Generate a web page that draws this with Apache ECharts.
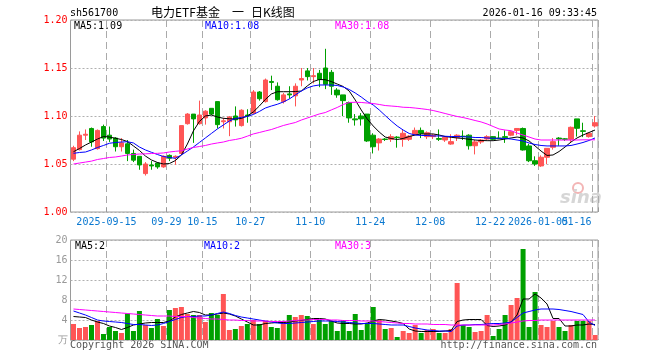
<!DOCTYPE html>
<html><head><meta charset="utf-8">
<script src="https://cdn.jsdelivr.net/npm/echarts@6/dist/echarts.min.js"></script>
<style>html,body{margin:0;padding:0;background:#fff}#c{width:660px;height:360px}</style>
</head><body><div id="c"></div>
<script>
const dates = ['2025-09-05','2025-09-08','2025-09-09','2025-09-10','2025-09-11','2025-09-12','2025-09-15','2025-09-16','2025-09-17','2025-09-18','2025-09-19','2025-09-22','2025-09-23','2025-09-24','2025-09-25','2025-09-26','2025-09-29','2025-09-30','2025-10-09','2025-10-10','2025-10-13','2025-10-14','2025-10-15','2025-10-16','2025-10-17','2025-10-20','2025-10-21','2025-10-22','2025-10-23','2025-10-24','2025-10-27','2025-10-28','2025-10-29','2025-10-30','2025-10-31','2025-11-03','2025-11-04','2025-11-05','2025-11-06','2025-11-07','2025-11-10','2025-11-11','2025-11-12','2025-11-13','2025-11-14','2025-11-17','2025-11-18','2025-11-19','2025-11-20','2025-11-21','2025-11-24','2025-11-25','2025-11-26','2025-11-27','2025-11-28','2025-12-01','2025-12-02','2025-12-03','2025-12-04','2025-12-05','2025-12-08','2025-12-09','2025-12-10','2025-12-11','2025-12-12','2025-12-15','2025-12-16','2025-12-17','2025-12-18','2025-12-19','2025-12-22','2025-12-23','2025-12-24','2025-12-25','2025-12-26','2025-12-29','2025-12-30','2025-12-31','2026-01-05','2026-01-06','2026-01-07','2026-01-08','2026-01-09','2026-01-12','2026-01-13','2026-01-14','2026-01-15','2026-01-16'];
const opens = [1.055,1.065,1.080,1.087,1.066,1.089,1.080,1.077,1.068,1.071,
1.061,1.058,1.040,1.049,1.051,1.047,1.059,1.057,1.061,1.092,
1.102,1.092,1.098,1.108,1.115,1.094,1.094,1.100,1.090,1.101,
1.103,1.125,1.115,1.136,1.131,1.115,1.123,1.121,1.1375,1.147,
1.141,1.1445,1.150,1.1455,1.127,1.122,1.114,1.097,1.100,1.102,
1.080,1.072,1.076,1.0757,1.078,1.0755,1.0757,1.081,1.085,1.0785,
1.0785,1.0765,1.075,1.0708,1.0775,1.079,1.080,1.069,1.073,1.076,
1.0785,1.077,1.0785,1.080,1.085,1.087,1.0688,1.0534,1.048,1.057,
1.0674,1.077,1.0762,1.0757,1.097,1.0846,1.0785,1.0896];
const closes = [1.067,1.080,1.081,1.073,1.085,1.077,1.076,1.068,1.072,1.061,
1.054,1.049,1.050,1.048,1.047,1.058,1.056,1.058,1.090,1.102,
1.097,1.101,1.105,1.102,1.091,1.095,1.099,1.096,1.106,1.100,
1.125,1.118,1.1375,1.135,1.117,1.122,1.122,1.131,1.139,1.141,
1.142,1.138,1.133,1.131,1.122,1.116,1.098,1.096,1.097,1.074,
1.068,1.076,1.0755,1.0785,1.0775,1.082,1.079,1.085,1.082,1.0826,
1.080,1.0757,1.0778,1.0733,1.080,1.0785,1.069,1.073,1.075,1.0785,
1.0757,1.0765,1.0775,1.0836,1.087,1.0646,1.0534,1.050,1.057,1.0663,
1.0733,1.076,1.0757,1.0882,1.0872,1.084,1.082,1.093];
const lows = [1.053,1.064,1.075,1.068,1.065,1.074,1.073,1.063,1.063,1.053,
1.052,1.044,1.038,1.044,1.045,1.046,1.053,1.049,1.060,1.091,
1.072,1.091,1.091,1.101,1.087,1.087,1.079,1.089,1.089,1.093,
1.102,1.116,1.114,1.127,1.116,1.113,1.118,1.110,1.131,1.137,
1.134,1.130,1.128,1.122,1.119,1.100,1.093,1.090,1.090,1.073,
1.061,1.064,1.074,1.073,1.067,1.068,1.074,1.080,1.077,1.076,
1.076,1.074,1.073,1.070,1.074,1.075,1.065,1.060,1.071,1.075,
1.075,1.076,1.072,1.079,1.080,1.064,1.052,1.048,1.047,1.050,
1.065,1.069,1.074,1.073,1.0785,1.078,1.0775,1.088];
const highs = [1.069,1.084,1.086,1.088,1.086,1.091,1.089,1.078,1.077,1.075,
1.065,1.058,1.052,1.053,1.052,1.059,1.060,1.059,1.090,1.103,
1.102,1.116,1.106,1.108,1.115,1.098,1.100,1.110,1.107,1.107,
1.127,1.126,1.139,1.142,1.135,1.124,1.131,1.134,1.150,1.150,
1.150,1.148,1.170,1.148,1.129,1.122,1.115,1.102,1.103,1.102,
1.082,1.077,1.077,1.081,1.079,1.086,1.080,1.088,1.088,1.084,
1.081,1.086,1.078,1.081,1.081,1.085,1.081,1.075,1.076,1.080,
1.079,1.084,1.085,1.084,1.0875,1.088,1.071,1.058,1.059,1.0663,
1.077,1.078,1.077,1.089,1.097,1.093,1.082,1.100];
const volumes = [3.2,2.4,2.6,3.0,3.8,1.2,2.6,1.8,1.4,5.3,
1.8,5.8,3.0,2.4,4.2,2.8,6.0,6.4,6.6,5.2,
5.0,5.0,3.6,5.4,5.0,9.2,2.0,2.2,2.8,3.2,
4.0,3.2,3.8,2.6,2.4,3.8,5.0,4.6,5.0,4.8,
3.2,4.0,3.2,3.8,1.8,4.0,1.8,5.2,2.0,3.3,
6.6,4.0,2.2,2.4,0.6,1.8,1.4,3.0,1.4,2.0,
2.2,1.4,1.4,2.2,11.4,3.0,2.6,1.6,1.8,5.0,
0.8,2.2,5.0,7.0,8.4,18.2,2.6,9.6,3.0,2.6,
3.8,2.6,1.8,3.0,3.8,3.8,3.8,1.0];
const ma5 = [1.0628,1.0661,1.0698,1.0729,1.0760,1.0786,1.0781,1.0768,1.0755,1.0734,
1.0688,1.0641,1.0583,1.0542,1.0516,1.0500,1.0505,1.0536,1.0594,1.0708,
1.0844,1.0943,1.1000,1.1010,1.0990,1.0976,1.0971,1.0969,1.0974,1.1000,
1.1042,1.1104,1.1172,1.1229,1.1253,1.1253,1.1253,1.1255,1.1260,1.1313,
1.1359,1.1380,1.1378,1.1359,1.1333,1.1307,1.1260,1.1167,1.1063,1.0969,
1.0896,1.0833,1.0781,1.0766,1.0755,1.0766,1.0786,1.0802,1.0813,1.0813,
1.0813,1.0802,1.0786,1.0778,1.0771,1.0766,1.0757,1.0750,1.0745,1.0743,
1.0743,1.0750,1.0760,1.0771,1.0781,1.0771,1.0740,1.0688,1.0635,1.0589,
1.0594,1.0630,1.0677,1.0729,1.0771,1.0802,1.0828,1.0854];
const ma10 = [1.0611,1.0620,1.0625,1.0646,1.0672,1.0693,1.0716,1.0724,1.0729,1.0732,
1.0719,1.0677,1.0646,1.0622,1.0599,1.0578,1.0568,1.0559,1.0594,1.0635,
1.0677,1.0724,1.0771,1.0818,1.0865,1.0906,1.0948,1.0974,1.0986,1.0995,
1.1016,1.1047,1.1083,1.1104,1.1122,1.1146,1.1177,1.1219,1.1260,1.1292,
1.1313,1.1323,1.1323,1.1323,1.1318,1.1302,1.1276,1.1240,1.1198,1.1151,
1.1115,1.1063,1.1005,1.0948,1.0896,1.0854,1.0818,1.0802,1.0797,1.0797,
1.0792,1.0792,1.0789,1.0786,1.0786,1.0784,1.0781,1.0776,1.0776,1.0771,
1.0768,1.0768,1.0766,1.0760,1.0750,1.0740,1.0719,1.0703,1.0693,1.0688,
1.0688,1.0688,1.0688,1.0693,1.0708,1.0724,1.0745,1.0771];
const ma30 = [1.0500,1.0510,1.0520,1.0530,1.0547,1.0557,1.0568,1.0573,1.0583,1.0594,
1.0599,1.0604,1.0606,1.0609,1.0611,1.0615,1.0625,1.0632,1.0638,1.0656,
1.0672,1.0682,1.0693,1.0708,1.0719,1.0729,1.0745,1.0755,1.0768,1.0790,
1.0813,1.0828,1.0844,1.0859,1.0880,1.0901,1.0917,1.0932,1.0958,1.0979,
1.1000,1.1021,1.1036,1.1063,1.1089,1.1120,1.1141,1.1143,1.1141,1.1135,
1.1130,1.1120,1.1109,1.1104,1.1099,1.1091,1.1089,1.1083,1.1076,1.1068,
1.1057,1.1042,1.1026,1.1010,1.0995,1.0984,1.0969,1.0953,1.0938,1.0917,
1.0891,1.0865,1.0854,1.0847,1.0823,1.0802,1.0781,1.0760,1.0750,1.0750,
1.0750,1.0750,1.0750,1.0750,1.0750,1.0752,1.0752,1.0752];
const volMa5 = [4.7,4.6,4.5,4.0,3.6,3.3,2.8,2.5,2.1,2.5,
3.0,3.2,3.4,3.5,3.5,3.5,3.8,4.6,5.1,5.4,
5.7,5.5,5.0,5.0,5.2,5.4,5.2,4.8,4.2,3.6,
3.0,3.0,3.3,3.4,3.5,3.5,3.6,3.8,3.9,4.1,
4.3,4.3,4.2,3.8,3.4,3.3,3.3,3.2,3.2,3.4,
3.8,4.1,4.0,3.8,3.6,3.3,2.2,1.8,1.7,1.7,
1.7,1.7,1.8,1.9,3.7,4.0,4.1,4.1,4.1,2.9,
2.7,2.8,3.0,3.6,5.0,8.2,8.2,9.2,8.4,7.2,
4.3,4.3,2.8,2.8,3.0,3.0,3.2,3.1];
const volMa10 = [5.8,5.4,5.0,4.5,4.0,3.8,3.7,3.6,3.5,3.3,
3.1,3.1,3.0,2.9,3.0,3.3,3.7,4.1,4.5,4.7,
4.7,4.8,4.8,5.0,5.3,5.6,5.3,4.9,4.6,4.4,
4.2,4.0,3.8,3.6,3.4,3.3,3.3,3.4,3.5,3.6,
3.7,3.8,3.8,3.8,3.7,3.6,3.5,3.4,3.3,3.3,
3.3,3.2,3.1,3.0,3.0,3.0,2.7,2.4,2.2,2.0,
1.9,1.8,1.8,1.7,2.8,3.0,3.0,3.1,3.1,3.2,
3.3,3.3,3.4,3.6,4.5,5.4,5.7,6.0,6.2,6.2,
6.2,6.1,5.9,5.7,5.4,5.1,3.6,2.9];
const volMa30 = [6.2,6.1,6.0,5.9,5.8,5.7,5.6,5.5,5.4,5.3,
5.2,5.1,5.0,4.9,4.8,4.8,4.8,4.7,4.7,4.7,
4.5,4.4,4.3,4.2,4.2,4.1,4.0,4.0,3.9,3.9,
3.8,3.8,3.8,3.7,3.7,3.7,3.8,3.9,4.0,4.0,
4.1,4.1,4.1,4.0,4.0,3.9,3.9,3.9,3.8,3.8,
3.8,3.7,3.6,3.5,3.4,3.3,3.3,3.2,3.2,3.2,
3.1,3.1,3.1,3.0,3.0,3.0,3.0,3.0,3.0,3.0,
3.0,3.1,3.2,3.4,3.6,3.8,3.9,3.9,4.0,4.0,
4.0,4.0,4.0,4.0,4.0,4.0,4.0,4.0];
const tickDates = ['2025-09-15','2025-09-29','2025-10-15','2025-10-27','2025-11-10','2025-11-24','2025-12-08','2025-12-22','2026-01-05','2026-01-16'];
const tickLabels = ['2025-09-15','09-29','10-15','10-27','11-10','11-24','12-08','12-22','2026-01-05','01-16'];
const priceTicks = {min: 1.00, max: 1.20, interval: 0.05};
const volTicks = {min: 0, max: 20, interval: 4};

const UP = '#ff5555', DOWN = '#00a000';
const MONO = 'DejaVu Sans Mono';
const F10 = '10px "' + MONO + '"';
const CJK = '12px "Noto Sans CJK SC"';
const lastDate = tickDates[tickDates.length - 1];
const isTick = (i, v) => tickDates.indexOf(v) >= 0;
const isInnerTick = (i, v) => isTick(i, v) && v !== lastDate;
const isLastTick = (i, v) => v === lastDate;
const fmtTick = v => tickLabels[tickDates.indexOf(v)];
const candles = dates.map((d, i) => [opens[i], closes[i], lows[i], highs[i]]);
const volData = volumes.map((v, i) => ({value: v, itemStyle: {color: closes[i] > opens[i] ? UP : DOWN}}));

const gridStyle = {show: true, borderColor: '#9a9a9a', borderWidth: 1, backgroundColor: 'transparent'};
const vSplit = {show: true, interval: isTick, lineStyle: {color: '#aaaaaa', width: 1, type: [7, 4]}};
const hSplit = {show: true, lineStyle: {color: '#b0b0b0', width: 1, type: [2, 2]}};
const labelBase = {show: true, color: '#0a78d0', fontFamily: MONO, fontSize: 10, margin: 5, hideOverlap: false};

const chart = echarts.init(document.getElementById('c'), null, {renderer: 'canvas'});
chart.setOption({
  animation: false,
  backgroundColor: '#fff',
  grid: [
    Object.assign({left: 70.5, top: 20, width: 527.5, height: 192}, gridStyle),
    Object.assign({left: 70.5, top: 240, width: 527.5, height: 100}, gridStyle)
  ],
  xAxis: [
    {type: 'category', gridIndex: 0, position: 'bottom', data: dates, boundaryGap: true,
     axisLine: {show: false},
     axisTick: {show: true, inside: true, length: 4, interval: isTick, lineStyle: {color: '#999'}},
     axisLabel: Object.assign({}, labelBase, {interval: isInnerTick, padding: [0, 6, 0, 0], formatter: fmtTick}),
     splitLine: vSplit},
    {type: 'category', gridIndex: 1, data: dates, boundaryGap: true,
     axisLine: {show: false}, axisTick: {show: false}, axisLabel: {show: false},
     splitLine: vSplit},
    {type: 'category', gridIndex: 0, position: 'bottom', offset: 0, data: dates, boundaryGap: true,
     axisLine: {show: false}, axisTick: {show: false}, splitLine: {show: false},
     axisLabel: Object.assign({}, labelBase, {interval: isLastTick, padding: [0, 37, 0, 0], formatter: fmtTick})}
  ],
  yAxis: [
    {type: 'value', gridIndex: 0, min: priceTicks.min, max: priceTicks.max, interval: priceTicks.interval,
     axisLine: {show: false}, axisTick: {show: false},
     axisLabel: {color: '#ff0000', fontFamily: MONO, fontSize: 10, margin: 3, formatter: v => v.toFixed(2)},
     splitLine: hSplit},
    {type: 'value', gridIndex: 1, min: volTicks.min, max: volTicks.max, interval: volTicks.interval,
     axisLine: {show: false}, axisTick: {show: false},
     axisLabel: {color: '#999', fontFamily: MONO, fontSize: 10, margin: 3,
       formatter: v => v === 0 ? '万' : String(v)},
     splitLine: hSplit}
  ],
  series: [
    {type: 'candlestick', xAxisIndex: 0, yAxisIndex: 0, data: candles, barWidth: 5,
     itemStyle: {color: UP, color0: DOWN, borderColor: UP, borderColor0: DOWN, borderWidth: 1}},
    {type: 'line', xAxisIndex: 0, yAxisIndex: 0, data: ma5, symbol: 'none', lineStyle: {color: '#000', width: 1}},
    {type: 'line', xAxisIndex: 0, yAxisIndex: 0, data: ma10, symbol: 'none', lineStyle: {color: '#0000ff', width: 1}},
    {type: 'line', xAxisIndex: 0, yAxisIndex: 0, data: ma30, symbol: 'none', lineStyle: {color: '#ff00ff', width: 1}},
    {type: 'bar', xAxisIndex: 1, yAxisIndex: 1, data: volData, barWidth: 5},
    {type: 'line', xAxisIndex: 1, yAxisIndex: 1, data: volMa5, symbol: 'none', lineStyle: {color: '#000', width: 1}},
    {type: 'line', xAxisIndex: 1, yAxisIndex: 1, data: volMa10, symbol: 'none', lineStyle: {color: '#0000ff', width: 1}},
    {type: 'line', xAxisIndex: 1, yAxisIndex: 1, data: volMa30, symbol: 'none', lineStyle: {color: '#ff00ff', width: 1}}
  ],
  graphic: [
    {type: 'text', left: 70, top: 8, style: {text: 'sh561700', fill: '#000', font: F10}},
    {type: 'text', left: 151, top: 6, style: {text: '电力ETF基金', fill: '#000', font: CJK}},
    {type: 'text', left: 232, top: 6, style: {text: '一', fill: '#000', font: CJK}},
    {type: 'text', left: 251, top: 6, style: {text: '日K线图', fill: '#000', font: CJK}},
    {type: 'text', right: 63, top: 8, style: {text: '2026-01-16 09:33:45', fill: '#000', font: F10}},
    {type: 'text', left: 74, top: 21, style: {text: 'MA5:1.09', fill: '#000', font: F10}},
    {type: 'text', left: 205, top: 21, style: {text: 'MA10:1.08', fill: '#0000ff', font: F10}},
    {type: 'text', left: 335, top: 21, style: {text: 'MA30:1.08', fill: '#ff00ff', font: F10}},
    {type: 'text', left: 75, top: 241, style: {text: 'MA5:2', fill: '#000', font: F10}},
    {type: 'text', left: 204, top: 241, style: {text: 'MA10:2', fill: '#0000ff', font: F10}},
    {type: 'text', left: 335, top: 241, style: {text: 'MA30:3', fill: '#ff00ff', font: F10}},
    {type: 'text', left: 70, top: 340, style: {text: 'Copyright 2026 SINA.COM', fill: '#555', font: F10}},
    {type: 'text', right: 63, top: 340, style: {text: 'http://finance.sina.com.cn', fill: '#555', font: F10}},
    {type: 'circle', shape: {cx: 578, cy: 188, r: 5}, style: {fill: 'none', stroke: '#f3b5b5', lineWidth: 2}},
    {type: 'text', left: 560, top: 189, style: {text: 'sina', fill: '#d6d6d6', font: 'italic bold 18px "DejaVu Sans"'}}
  ]
});
</script></body></html>
